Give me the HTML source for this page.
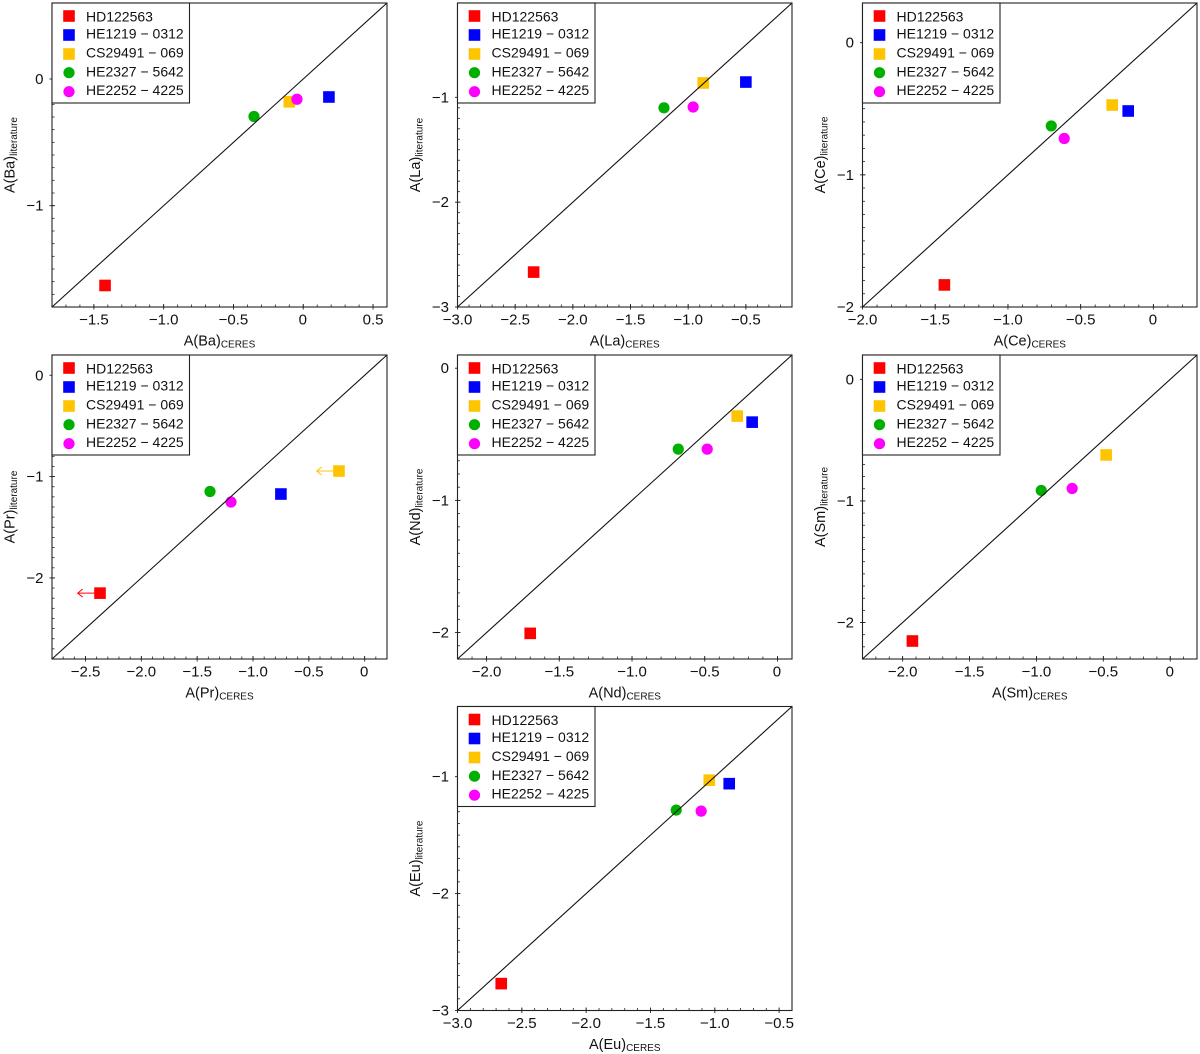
<!DOCTYPE html>
<html lang="en">
<head>
<meta charset="utf-8">
<title>A(X) CERES versus literature abundances</title>
<style>
html,body{margin:0;padding:0;background:#fff;}
body{width:1200px;height:1054px;overflow:hidden;}
svg{display:block;font-family:"Liberation Sans",sans-serif;}
</style>
</head>
<body>
<svg id="figure" xmlns="http://www.w3.org/2000/svg" width="1200" height="1054" viewBox="0 0 1200 1054"></svg>
<script>
const starNames = ["HD122563", "HE1219 \u2212 0312", "CS29491 \u2212 069", "HE2327 \u2212 5642", "HE2252 \u2212 4225"];
const starIds = ["hd122563", "he1219-0312", "cs29491-069", "he2327-5642", "he2252-4225"];
const starColors = ["#ff0000", "#0000ff", "#ffc400", "#00b000", "#ff00ff"];
const starShapes = ["square", "square", "square", "circle", "circle"];

const baCeres = [-1.42, 0.184, -0.10, -0.353, -0.045];
const baLiterature = [-1.63, -0.142, -0.18, -0.296, -0.16];
const laCeres = [-2.34, -0.50, -0.87, -1.21, -0.957];
const laLiterature = [-2.667, -0.854, -0.863, -1.10, -1.092];
const ceCeres = [-1.437, -0.173, -0.283, -0.702, -0.613];
const ceLiterature = [-1.833, -0.517, -0.472, -0.63, -0.725];
const prCeres = [-2.37, -0.75, -0.23, -1.385, -1.197];
const prLiterature = [-2.15, -1.172, -0.945, -1.147, -1.251];
const prUpperLimit = [true, false, true, false, false];
const ndCeres = [-1.70, -0.174, -0.277, -0.682, -0.483];
const ndLiterature = [-2.006, -0.408, -0.362, -0.612, -0.612];
const smCeres = [-1.927, null, -0.479, -0.964, -0.733];
const smLiterature = [-2.152, null, -0.622, -0.914, -0.898];
const euCeres = [-2.66, -0.888, -1.043, -1.30, -1.106];
const euLiterature = [-2.77, -1.06, -1.03, -1.286, -1.295];
const noLimit = [false, false, false, false, false];

const baXTicks = [-1.5, -1, -0.5, 0, 0.5];
const baYTicks = [-1, 0];
const laXTicks = [-3, -2.5, -2, -1.5, -1, -0.5];
const laYTicks = [-3, -2, -1];
const ceXTicks = [-2, -1.5, -1, -0.5, 0];
const ceYTicks = [-2, -1, 0];
const prXTicks = [-2.5, -2, -1.5, -1, -0.5, 0];
const prYTicks = [-2, -1, 0];
const ndXTicks = [-2, -1.5, -1, -0.5, 0];
const ndYTicks = [-2, -1, 0];
const smXTicks = [-2, -1.5, -1, -0.5, 0];
const smYTicks = [-2, -1, 0];
const euXTicks = [-3, -2.5, -2, -1.5, -1, -0.5];
const euYTicks = [-3, -2, -1];

const SVG_NS = "http://www.w3.org/2000/svg";
const figure = document.getElementById("figure");
const AX_H = 304;
const LIMIT_ARROW = 0.2;

function make(tag, parent, props) {
  const node = document.createElementNS(SVG_NS, tag);
  for (const key in props) node.setAttribute(key, props[key]);
  parent.appendChild(node);
  return node;
}

function formatX(v) {
  return v === 0 ? "0" : (v < 0 ? "\u2212" : "") + Math.abs(v).toFixed(1);
}
function formatY(v) {
  return v === 0 ? "0" : (v < 0 ? "\u2212" : "") + Math.abs(v).toFixed(0);
}
function tenths(lo, hi) {
  const out = [];
  for (let i = Math.ceil(lo * 10 - 1e-6); i <= Math.floor(hi * 10 + 1e-6); i++) out.push(i / 10);
  return out;
}

function drawPanel(cfg) {
  const id = cfg.element.toLowerCase();
  const AX_W = cfg.width;
  const sx = v => cfg.left + (v - cfg.xlim[0]) / (cfg.xlim[1] - cfg.xlim[0]) * AX_W;
  const sy = v => cfg.top + AX_H - (v - cfg.ylim[0]) / (cfg.ylim[1] - cfg.ylim[0]) * AX_H;

  const g = make("g", figure, {});
  
  

  const marks = make("g", g, {});
  
  

  cfg.x.forEach((xv, i) => {
    if (xv === null || cfg.y[i] === null) return;
    const px = sx(xv);
    const py = sy(cfg.y[i]);
    const color = starColors[i];
    let mark;
    if (starShapes[i] === "square") {
      mark = make("rect", marks, { x: px - 5.8, y: py - 5.8, width: 11.6, height: 11.6, fill: color });
    } else {
      mark = make("circle", marks, { cx: px, cy: py, r: 5.6, fill: color });
    }
    
    
    if (cfg.limit[i]) {
      const tip = sx(xv - LIMIT_ARROW);
      const arrow = make("path", marks, {
        d: "M" + px + " " + py + "H" + tip + "M" + (tip + 5) + " " + (py - 4) + "L" + tip + " " + py + "L" + (tip + 5) + " " + (py + 4),
        fill: "none", stroke: color, "stroke-width": 1
      });
      
      
    }
  });

  const lo = Math.max(cfg.xlim[0], cfg.ylim[0]);
  const hi = Math.min(cfg.xlim[1], cfg.ylim[1]);
  const diag = make("line", g, { x1: sx(lo), y1: sy(lo), x2: sx(hi), y2: sy(hi), stroke: "#111", "stroke-width": 1.1 });
  
  

  const xAxis = make("g", g, {});
  
  
  const yAxis = make("g", g, {});
  
  
  const bottom = cfg.top + AX_H;

  tenths(cfg.xlim[0], cfg.xlim[1]).forEach(v => {
    const tick = make("line", xAxis, { x1: sx(v), x2: sx(v), y1: bottom, y2: bottom - 2.5, stroke: "#222", "stroke-width": 0.8 });
    
    
  });
  tenths(cfg.ylim[0], cfg.ylim[1]).forEach(v => {
    const tick = make("line", yAxis, { x1: cfg.left, x2: cfg.left + 2.5, y1: sy(v), y2: sy(v), stroke: "#222", "stroke-width": 0.8 });
    
    
  });
  cfg.xTicks.forEach(v => {
    const tick = make("line", xAxis, { x1: sx(v), x2: sx(v), y1: bottom + 2.5, y2: bottom - 3, stroke: "#222", "stroke-width": 0.9 });
    
    
    const label = make("text", xAxis, { x: sx(v) - (v === 0 ? 0.5 : 0), y: bottom + 17.5, "text-anchor": "middle", "font-size": 15, fill: "#111" });
    label.textContent = formatX(v);
    
    
  });
  cfg.yTicks.forEach(v => {
    const tick = make("line", yAxis, { x1: cfg.left - 2.5, x2: cfg.left + 3, y1: sy(v), y2: sy(v), stroke: "#222", "stroke-width": 0.9 });
    
    
    const label = make("text", yAxis, { x: cfg.left - 8.5, y: sy(v) + 5, "text-anchor": "end", "font-size": 15, fill: "#111" });
    label.textContent = formatY(v);
    
    
  });

  const frame = make("rect", g, { x: cfg.left, y: cfg.top, width: AX_W, height: AX_H, fill: "none", stroke: "#222", "stroke-width": 1.1 });
  
  

  const xTitle = make("text", g, { x: cfg.left + AX_W / 2, y: bottom + 38.5, "text-anchor": "middle", "font-size": 14.5, fill: "#111" });
  
  
  xTitle.appendChild(document.createTextNode("A(" + cfg.element + ")"));
  const xSub = make("tspan", xTitle, { dy: 2, "font-size": 10 });
  xSub.textContent = "CERES";

  const yx = cfg.left - 37.5;
  const yy = cfg.top + AX_H / 2;
  const yTitle = make("text", g, { x: yx, y: yy, transform: "rotate(-90 " + yx + " " + yy + ")", "text-anchor": "middle", "font-size": 14.5, fill: "#111" });
  
  
  yTitle.appendChild(document.createTextNode("A(" + cfg.element + ")"));
  const ySub = make("tspan", yTitle, { dy: 2.5, "font-size": 10 });
  ySub.textContent = "literature";

  const legend = make("g", g, {});
  
  
  const box = make("rect", legend, { x: cfg.left, y: cfg.top, width: 137.5, height: 100, fill: "#fff", stroke: "#222", "stroke-width": 1.1 });
  
  
  const markerRows = [13, 32, 51, 69.7, 88.7];
  const textRows = [18.5, 35.5, 54.5, 73.5, 92];
  starNames.forEach((name, i) => {
    const my = cfg.top + markerRows[i];
    const mx = cfg.left + 17;
    let key;
    if (starShapes[i] === "square") {
      key = make("rect", legend, { x: mx - 5.8, y: my - 5.8, width: 11.6, height: 11.6, fill: starColors[i] });
    } else {
      key = make("circle", legend, { cx: mx, cy: my, r: 5.6, fill: starColors[i] });
    }
    
    
    const text = make("text", legend, { x: cfg.left + 34, y: cfg.top + textRows[i], "font-size": 14, fill: "#111" });
    text.textContent = name;
    
    
  });
}

drawPanel({ element: "Ba", left: 52, top: 3, width: 335, xlim: [-1.8, 0.6], ylim: [-1.8, 0.6], x: baCeres, y: baLiterature, limit: noLimit, xTicks: baXTicks, yTicks: baYTicks });
drawPanel({ element: "La", left: 457.5, top: 3, width: 334.5, xlim: [-3, -0.1], ylim: [-3, -0.1], x: laCeres, y: laLiterature, limit: noLimit, xTicks: laXTicks, yTicks: laYTicks });
drawPanel({ element: "Ce", left: 862.5, top: 3, width: 334.5, xlim: [-2, 0.3], ylim: [-2, 0.3], x: ceCeres, y: ceLiterature, limit: noLimit, xTicks: ceXTicks, yTicks: ceYTicks });
drawPanel({ element: "Pr", left: 52, top: 355, width: 335, xlim: [-2.8, 0.2], ylim: [-2.8, 0.2], x: prCeres, y: prLiterature, limit: prUpperLimit, xTicks: prXTicks, yTicks: prYTicks });
drawPanel({ element: "Nd", left: 457.5, top: 355, width: 334.5, xlim: [-2.2, 0.1], ylim: [-2.2, 0.1], x: ndCeres, y: ndLiterature, limit: noLimit, xTicks: ndXTicks, yTicks: ndYTicks });
drawPanel({ element: "Sm", left: 862.5, top: 355, width: 334.5, xlim: [-2.3, 0.2], ylim: [-2.3, 0.2], x: smCeres, y: smLiterature, limit: noLimit, xTicks: smXTicks, yTicks: smYTicks });
drawPanel({ element: "Eu", left: 457.5, top: 706.5, width: 334.5, xlim: [-3, -0.4], ylim: [-3, -0.4], x: euCeres, y: euLiterature, limit: noLimit, xTicks: euXTicks, yTicks: euYTicks });
</script>
</body>
</html>
